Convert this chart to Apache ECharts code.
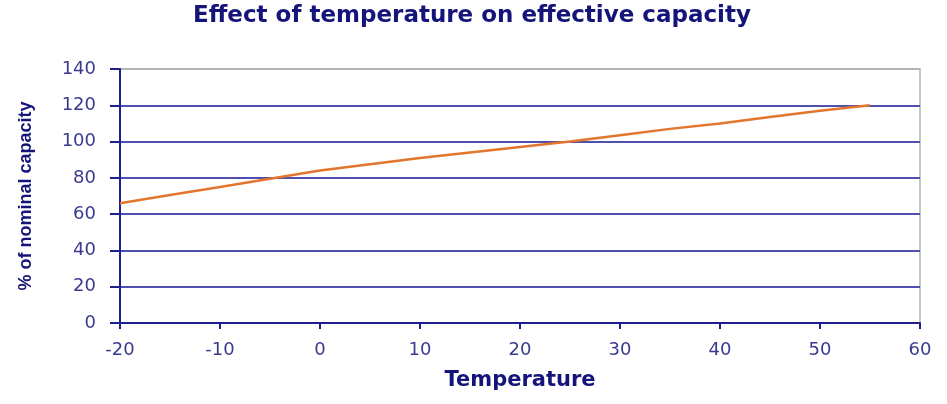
<!DOCTYPE html>
<html><head><meta charset="utf-8">
<script src="https://cdn.jsdelivr.net/npm/echarts@6/dist/echarts.min.js"></script>
<style>html,body{margin:0;padding:0;background:#fff}#c{width:947px;height:404px}</style>
</head><body><div id="c"></div>
<script>
const titleText = 'Effect of temperature on effective capacity';
const xName = 'Temperature';
const yName = '% of nominal capacity';
const temps = [-20,-15,-10,-5,0,5,10,15,20,25,30,35,40,45,50,55];
const capacity = [66,70.5,75,79.5,84,87.5,91,94,97,100,103.5,107,110,113.5,117,120];

const navy = '#1e1e8c';
const grid = '#4f4fae';
const chart = echarts.init(document.getElementById('c'));
chart.setOption({
  animation: false,
  title: { text: titleText, left: 467, textAlign: 'center', top: 0,
    textStyle: { fontFamily: 'DejaVu Sans', fontWeight: 'bold', fontSize: 23, color: '#14147a' } },
  grid: { left: 120, right: 27, top: 69, bottom: 81, show: true, borderColor: '#b4b4b4', borderWidth: 1.5 },
  xAxis: { type: 'value', min: -20, max: 60, interval: 10,
    name: xName, nameLocation: 'middle', nameGap: 47,
    nameTextStyle: { fontFamily: 'DejaVu Sans', fontWeight: 'bold', fontSize: 21, color: '#14147a' },
    axisLine: { onZero: false, lineStyle: { color: navy, width: 2 } },
    axisTick: { show: true, length: 6, lineStyle: { color: navy, width: 2 } },
    axisLabel: { fontFamily: 'DejaVu Sans', fontSize: 18, color: '#3a3a8e', margin: 18 },
    splitLine: { show: false } },
  yAxis: { type: 'value', min: 0, max: 140, interval: 20,
    name: yName, nameLocation: 'middle', nameGap: 85, nameRotate: 90,
    nameTextStyle: { fontFamily: 'Liberation Sans', fontWeight: 'bold', fontSize: 18, color: '#14147a' },
    axisLine: { show: true, onZero: false, lineStyle: { color: navy, width: 2 } },
    axisTick: { show: true, length: 10, lineStyle: { color: navy, width: 2 } },
    axisLabel: { fontFamily: 'DejaVu Sans', fontSize: 18, color: '#3a3a8e', margin: 24 },
    splitLine: { show: true, lineStyle: { color: [grid, grid, grid, grid, grid, grid, grid, '#b4b4b4'], width: 2 } } },
  series: [{ type: 'line', data: temps.map((t,i)=>[t, capacity[i]]), showSymbol: false,
    lineStyle: { color: '#e3752c', width: 2.5 }, itemStyle: { color: '#e3752c' } }]
});
</script></body></html>
